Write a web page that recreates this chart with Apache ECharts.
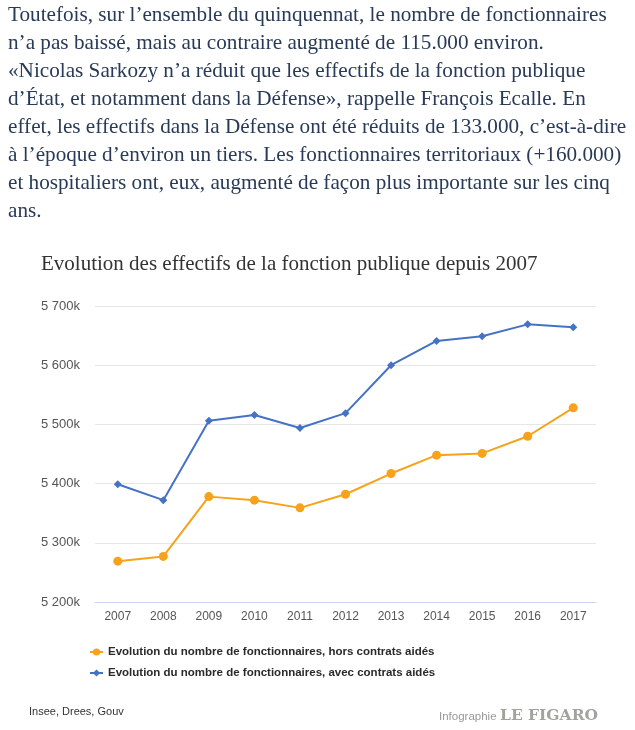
<!DOCTYPE html>
<html>
<head>
<meta charset="utf-8">
<script src="https://cdn.jsdelivr.net/npm/echarts@6/dist/echarts.min.js"></script>
<style>
  html, body { margin: 0; padding: 0; background: #fff; }
  #chart { width: 635px; height: 730px; }
</style>
</head>
<body>
<div id="chart"></div>
<script>
// texte de l'article au-dessus du graphique
const paragraphLines = [
  'Toutefois, sur l\u2019ensemble du quinquennat, le nombre de fonctionnaires',
  'n\u2019a pas baissé, mais au contraire augmenté de 115.000 environ.',
  '«Nicolas Sarkozy n\u2019a réduit que les effectifs de la fonction publique',
  'd\u2019État, et notamment dans la Défense», rappelle François Ecalle. En',
  'effet, les effectifs dans la Défense ont été réduits de 133.000, c\u2019est-à-dire',
  'à l\u2019époque d\u2019environ un tiers. Les fonctionnaires territoriaux (+160.000)',
  'et hospitaliers ont, eux, augmenté de façon plus importante sur les cinq',
  'ans.'
];

const years = ['2007', '2008', '2009', '2010', '2011', '2012', '2013', '2014', '2015', '2016', '2017'];
// en milliers
const horsContrats = [5269, 5277, 5378, 5372, 5359, 5382, 5417, 5448, 5451, 5480, 5528];
const avecContrats = [5399, 5372, 5506, 5516, 5494, 5519, 5600, 5641, 5649, 5669, 5664];

const seriesNames = [
  'Evolution du nombre de fonctionnaires, hors contrats aidés',
  'Evolution du nombre de fonctionnaires, avec contrats aidés'
];

const myChart = echarts.init(document.getElementById('chart'));

const textGraphics = paragraphLines.map((line, i) => ({
  type: 'text',
  left: 8,
  top: 5 + i * 28,
  style: {
    text: line,
    font: '21.2px "Liberation Serif"',
    fill: '#283a58'
  }
}));

const option = {
  backgroundColor: '#fff',
  animation: false,
  title: {
    text: 'Evolution des effectifs de la fonction publique depuis 2007',
    left: 36,
    top: 249,
    textStyle: {
      fontFamily: 'Liberation Serif',
      fontWeight: 'normal',
      fontSize: 21,
      color: '#333'
    }
  },
  legend: {
    orient: 'vertical',
    left: 84,
    top: 641,
    itemGap: 9,
    itemWidth: 13,
    itemHeight: 9,
    textStyle: {
      fontFamily: 'Liberation Sans',
      fontWeight: 'bold',
      fontSize: 11.5,
      color: '#2a2a2a'
    },
    data: seriesNames
  },
  grid: {
    left: 95,
    right: 39,
    top: 306,
    bottom: 128
  },
  xAxis: {
    type: 'category',
    data: years,
    boundaryGap: true,
    axisLine: { lineStyle: { color: '#ccd6eb' } },
    axisTick: { alignWithLabel: true, length: 8, lineStyle: { color: '#ccd6eb' } },
    axisLabel: {
      fontFamily: 'Liberation Sans',
      fontSize: 12,
      color: '#555',
      margin: 9
    }
  },
  yAxis: {
    type: 'value',
    min: 5200,
    max: 5700,
    interval: 100,
    axisLine: { show: false },
    axisTick: { show: false },
    splitLine: { lineStyle: { color: '#e6e6e6' } },
    axisLabel: {
      fontFamily: 'Liberation Sans',
      fontSize: 13,
      color: '#555',
      margin: 15,
      formatter: v => Math.floor(v / 1000) + ' ' + String(v % 1000).padStart(3, '0') + 'k'
    }
  },
  series: [
    {
      name: seriesNames[0],
      type: 'line',
      data: horsContrats,
      symbol: 'circle',
      symbolSize: 9,
      lineStyle: { width: 2, color: '#f7a21b' },
      itemStyle: { color: '#f7a21b' }
    },
    {
      name: seriesNames[1],
      type: 'line',
      data: avecContrats,
      symbol: 'diamond',
      symbolSize: 8,
      lineStyle: { width: 2, color: '#4572c4' },
      itemStyle: { color: '#4572c4' }
    }
  ],
  graphic: textGraphics.concat([
    {
      type: 'text',
      left: 29,
      top: 706,
      style: { text: 'Insee, Drees, Gouv', font: '11px "Liberation Sans"', fill: '#333' }
    },
    {
      type: 'text',
      left: 439,
      top: 711,
      style: { text: 'Infographie', font: '11.5px "Liberation Sans"', fill: '#999' }
    },
    {
      type: 'text',
      left: 500,
      top: 708,
      style: { text: 'LE FIGARO', font: 'bold 15.5px "DejaVu Serif"', fill: '#a3a39d' }
    }
  ])
};

if (option && typeof option === 'object') {
  myChart.setOption(option, true);
}
</script>
</body>
</html>
